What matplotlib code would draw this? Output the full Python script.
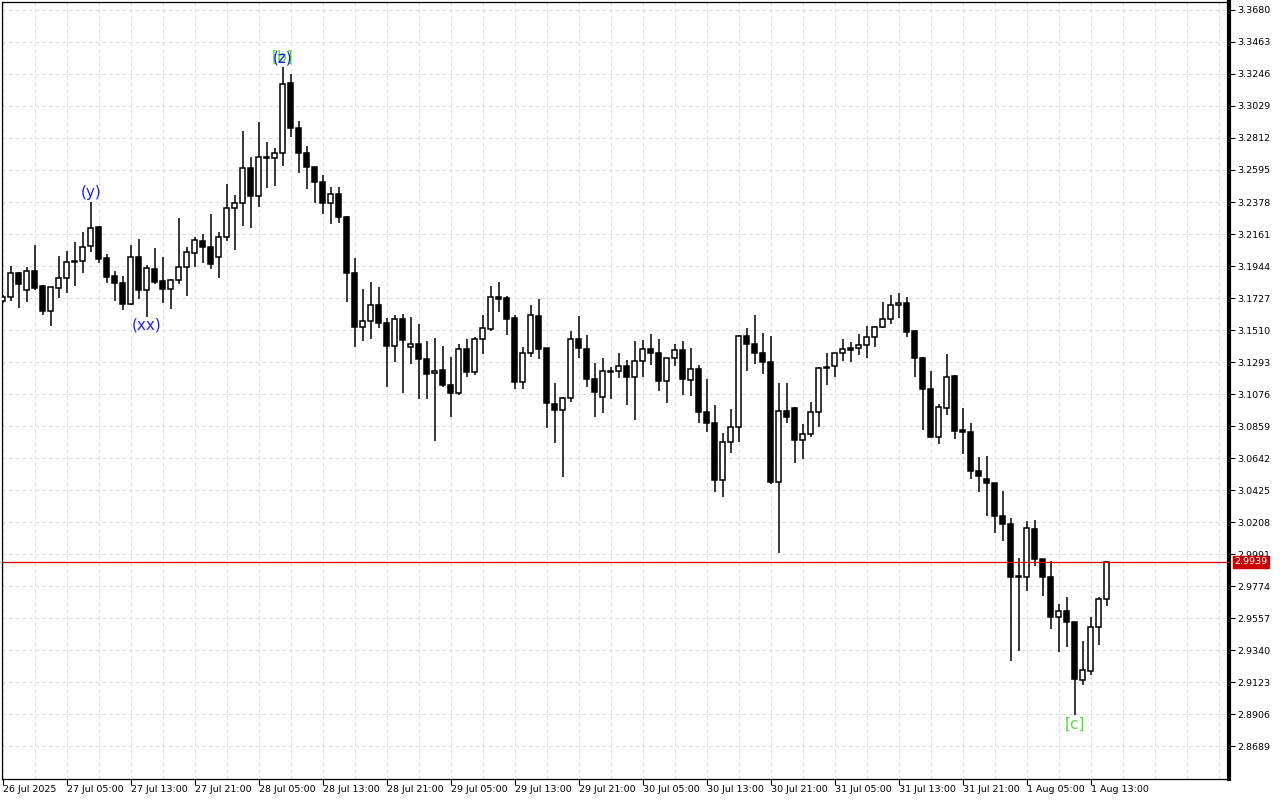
import numpy as np
import matplotlib
matplotlib.use('Agg')
import matplotlib.pyplot as plt

# hourly OHLC (26 Jul 21:00 -> 1 Aug 14:00)
opens = [3.1707, 3.1732, 3.1895, 3.1780, 3.1910, 3.1809, 3.1641, 3.1797, 3.1861, 3.1978,
         3.1978, 3.2080, 3.2209, 3.1997, 3.1877, 3.1827, 3.1685, 3.2003, 3.1780, 3.1922,
         3.1843, 3.1786, 3.1849, 3.1940, 3.2030, 3.2114, 3.2071, 3.2007, 3.2143, 3.2336,
         3.2369, 3.2607, 3.2421, 3.2681, 3.2675, 3.2708, 3.3183, 3.2878, 3.2712, 3.2618,
         3.2516, 3.2373, 3.2430, 3.2279, 3.1895, 3.1533, 3.1573, 3.1678, 3.1556, 3.1404,
         3.1587, 3.1397, 3.1413, 3.1312, 3.1217, 3.1237, 3.1137, 3.1081, 3.1380, 3.1228,
         3.1447, 3.1520, 3.1732, 3.1725, 3.1590, 3.1160, 3.1352, 3.1605, 3.1387, 3.1007,
         3.0966, 3.1049, 3.1447, 3.1380, 3.1178, 3.1058, 3.1228, 3.1230, 3.1264, 3.1194,
         3.1300, 3.1380, 3.1356, 3.1167, 3.1318, 3.1373, 3.1169, 3.1244, 3.0956, 3.0878,
         3.0493, 3.0749, 3.0853, 3.1468, 3.1417, 3.1356, 3.1295, 3.0482, 3.0959, 3.0982,
         3.0767, 3.0803, 3.0952, 3.1251, 3.1264, 3.1352, 3.1388, 3.1390, 3.1407, 3.1461,
         3.1533, 3.1583, 3.1678, 3.1691, 3.1504, 3.1320, 3.1108, 3.0787, 3.0980, 3.1198,
         3.0832, 3.0821, 3.0554, 3.0500, 3.0473, 3.0249, 3.0195, 2.9838, 2.9835, 3.0161,
         2.9956, 2.9834, 2.9567, 2.9603, 2.9529, 2.9137, 2.9200, 2.9499, 2.9685]
highs = [3.1748, 3.1944, 3.1904, 3.1935, 3.2087, 3.1812, 3.1803, 3.2012, 3.2048, 3.2109,
         3.2177, 3.2380, 3.2212, 3.2026, 3.1912, 3.1879, 3.2087, 3.2125, 3.1951, 3.2064,
         3.2003, 3.1858, 3.2268, 3.2075, 3.2139, 3.2159, 3.2297, 3.2173, 3.2500, 3.2426,
         3.2862, 3.2681, 3.2921, 3.2785, 3.2746, 3.3296, 3.3244, 3.2927, 3.2758, 3.2622,
         3.2561, 3.2482, 3.2482, 3.2285, 3.1997, 3.1786, 3.1834, 3.1800, 3.1592, 3.1610,
         3.1619, 3.1597, 3.1551, 3.1438, 3.1454, 3.1402, 3.1325, 3.1413, 3.1447, 3.1465,
         3.1612, 3.1809, 3.1836, 3.1741, 3.1612, 3.1393, 3.1680, 3.1719, 3.1390, 3.1149,
         3.1054, 3.1504, 3.1605, 3.1476, 3.1285, 3.1318, 3.1257, 3.1352, 3.1307, 3.1436,
         3.1443, 3.1483, 3.1447, 3.1320, 3.1415, 3.1436, 3.1386, 3.1273, 3.1178, 3.1002,
         3.0810, 3.0975, 3.1476, 3.1522, 3.1612, 3.1488, 3.1470, 3.1149, 3.1149, 3.0985,
         3.0873, 3.1020, 3.1257, 3.1356, 3.1355, 3.1447, 3.1429, 3.1483, 3.1538, 3.1536,
         3.1698, 3.1748, 3.1759, 3.1732, 3.1511, 3.1329, 3.1234, 3.1009, 3.1348, 3.1205,
         3.0984, 3.0878, 3.0647, 3.0656, 3.0476, 3.0419, 3.0234, 2.9967, 3.0215, 3.0222,
         2.9960, 2.9944, 2.9653, 2.9700, 2.9533, 2.9402, 2.9563, 2.9702, 2.9939]
lows = [3.1693, 3.1709, 3.1662, 3.1702, 3.1782, 3.1612, 3.1540, 3.1729, 3.1759, 3.1809,
        3.1899, 3.2041, 3.1965, 3.1831, 3.1709, 3.1646, 3.1680, 3.1719, 3.1601, 3.1820,
        3.1691, 3.1653, 3.1820, 3.1743, 3.1940, 3.1967, 3.1926, 3.1865, 3.2116, 3.2053,
        3.2218, 3.2204, 3.2346, 3.2475, 3.2489, 3.2622, 3.2821, 3.2573, 3.2466, 3.2373,
        3.2297, 3.2227, 3.2234, 3.1702, 3.1393, 3.1438, 3.1447, 3.1522, 3.1122, 3.1291,
        3.1085, 3.1282, 3.1045, 3.1045, 3.0760, 3.1122, 3.0923, 3.1070, 3.1194, 3.1205,
        3.1348, 3.1506, 3.1634, 3.1476, 3.1112, 3.1110, 3.1329, 3.1312, 3.0844, 3.0742,
        3.0512, 3.1024, 3.1318, 3.1126, 3.0919, 3.0946, 3.1040, 3.1187, 3.1002, 3.0900,
        3.1194, 3.1273, 3.1099, 3.1013, 3.1268, 3.1070, 3.1065, 3.0882, 3.0821, 3.0410,
        3.0380, 3.0674, 3.0753, 3.1234, 3.1278, 3.1210, 3.0464, 2.9996, 3.0878, 3.0607,
        3.0636, 3.0787, 3.0855, 3.1137, 3.1194, 3.1300, 3.1295, 3.1343, 3.1323, 3.1397,
        3.1522, 3.1549, 3.1590, 3.1461, 3.1194, 3.0832, 3.0780, 3.0735, 3.0934, 3.0773,
        3.0668, 3.0498, 3.0414, 3.0251, 3.0136, 3.0082, 2.9268, 2.9336, 2.9743, 2.9912,
        2.9709, 2.9483, 2.9329, 2.9363, 2.8900, 2.9103, 2.9171, 2.9375, 2.9641]
closes = [3.1734, 3.1895, 3.1820, 3.1910, 3.1797, 3.1641, 3.1800, 3.1861, 3.1969, 3.1969,
          3.2075, 3.2204, 3.1994, 3.1872, 3.1827, 3.1685, 3.2003, 3.1780, 3.1929, 3.1838,
          3.1786, 3.1849, 3.1935, 3.2039, 3.2121, 3.2071, 3.1956, 3.2139, 3.2336, 3.2369,
          3.2607, 3.2421, 3.2681, 3.2675, 3.2708, 3.3178, 3.2878, 3.2712, 3.2618, 3.2516,
          3.2373, 3.2430, 3.2279, 3.1895, 3.1533, 3.1573, 3.1678, 3.1556, 3.1404, 3.1587,
          3.1443, 3.1413, 3.1312, 3.1210, 3.1230, 3.1137, 3.1081, 3.1380, 3.1228, 3.1447,
          3.1522, 3.1732, 3.1721, 3.1585, 3.1160, 3.1352, 3.1610, 3.1380, 3.1013, 3.0966,
          3.1049, 3.1447, 3.1386, 3.1176, 3.1088, 3.1232, 3.1234, 3.1264, 3.1194, 3.1300,
          3.1380, 3.1356, 3.1167, 3.1318, 3.1373, 3.1176, 3.1244, 3.0956, 3.0878, 3.0493,
          3.0749, 3.0853, 3.1468, 3.1417, 3.1356, 3.1295, 3.0482, 3.0959, 3.0923, 3.0767,
          3.0803, 3.0952, 3.1251, 3.1260, 3.1352, 3.1380, 3.1377, 3.1407, 3.1461, 3.1533,
          3.1583, 3.1678, 3.1691, 3.1499, 3.1323, 3.1108, 3.0787, 3.0986, 3.1194, 3.0828,
          3.0821, 3.0556, 3.0523, 3.0471, 3.0251, 3.0197, 2.9838, 2.9840, 3.0166, 2.9956,
          2.9834, 2.9567, 2.9603, 2.9533, 2.9142, 2.9203, 2.9499, 2.9685, 2.9939]

time_labels = ['26 Jul 2025', '27 Jul 05:00', '27 Jul 13:00', '27 Jul 21:00', '28 Jul 05:00',
               '28 Jul 13:00', '28 Jul 21:00', '29 Jul 05:00', '29 Jul 13:00', '29 Jul 21:00',
               '30 Jul 05:00', '30 Jul 13:00', '30 Jul 21:00', '31 Jul 05:00', '31 Jul 13:00',
               '31 Jul 21:00', '1 Aug 05:00', '1 Aug 13:00']
price_ticks = [3.3680, 3.3463, 3.3246, 3.3029, 3.2812, 3.2595, 3.2378, 3.2161, 3.1944, 3.1727,
               3.1510, 3.1293, 3.1076, 3.0859, 3.0642, 3.0425, 3.0208, 2.9991, 2.9774, 2.9557,
               2.9340, 2.9123, 2.8906, 2.8689]
last_price = 2.9939

# wave labels: (bar index, text, colour, above/below)
waves = [(11, '(y)', '#1f1fff', 'above'),
         (18, '(xx)', '#1f1fff', 'below'),
         (35, '[b]', '#55dd33', 'above'),
         (35, '(z)', '#1f1fff', 'above'),
         (134, '[c]', '#55dd33', 'below')]

o = np.array(opens); h = np.array(highs); l = np.array(lows); c = np.array(closes)
x = np.arange(len(o))

fig = plt.figure(figsize=(12.8, 8), dpi=100)
ax = fig.add_axes([2/1280, 21/800, 1227/1280, 777/800])

# grid
for gx in range(0, 160, 4):
    ax.axvline(gx, color='#dcdcdc', lw=0.8, ls=(0, (3, 3)), zorder=0)
for p in price_ticks:
    ax.axhline(p, color='#dcdcdc', lw=0.8, ls=(0, (3, 3)), zorder=0)

# candles
up = c >= o
ax.vlines(x, l, h, color='black', lw=1.1, zorder=2)
body_lo = np.minimum(o, c)
body_h = np.maximum(np.abs(c - o), 0.0003)
ax.bar(x[up], body_h[up], bottom=body_lo[up], width=0.62, color='white',
       edgecolor='black', linewidth=1.1, zorder=3)
ax.bar(x[~up], body_h[~up], bottom=body_lo[~up], width=0.62, color='black',
       edgecolor='black', linewidth=1.1, zorder=3)

ax.axhline(last_price, color='#e00000', lw=0.9, zorder=4)

for i, txt, col, pos in waves:
    if pos == 'above':
        ax.annotate(txt, (i, h[i]), xytext=(0, 1), textcoords='offset points',
                    ha='center', va='bottom', color=col, fontsize=11, zorder=5)
    else:
        ax.annotate(txt, (i, l[i]), xytext=(0, -1), textcoords='offset points',
                    ha='center', va='top', color=col, fontsize=11, zorder=5)

ax.set_xlim(-0.1, 153.3)
ax.set_ylim(2.8466, 3.3734)

ax.yaxis.tick_right()
ax.set_yticks(price_ticks)
ax.set_yticklabels(['%.4f' % p for p in price_ticks])
ax.set_xticks(np.arange(0, 8 * len(time_labels), 8))
ax.set_xticklabels(time_labels, ha='left')
ax.tick_params(axis='both', direction='out', length=4, width=0.8, labelsize=6.8, pad=2)
ax.tick_params(axis='x', pad=0.5)

for s in ['left', 'top', 'bottom']:
    ax.spines[s].set_linewidth(0.9)
ax.spines['right'].set_linewidth(3)

ax.annotate('%.4f' % last_price, xy=(1.0, last_price), xycoords=('axes fraction', 'data'),
            xytext=(4, 0), textcoords='offset points', ha='left', va='center',
            fontsize=6.8, color='white', zorder=6, annotation_clip=False,
            bbox=dict(boxstyle='square,pad=0.15', fc='#cc0000', ec='#cc0000'))

fig.savefig('out.png', dpi=100)
